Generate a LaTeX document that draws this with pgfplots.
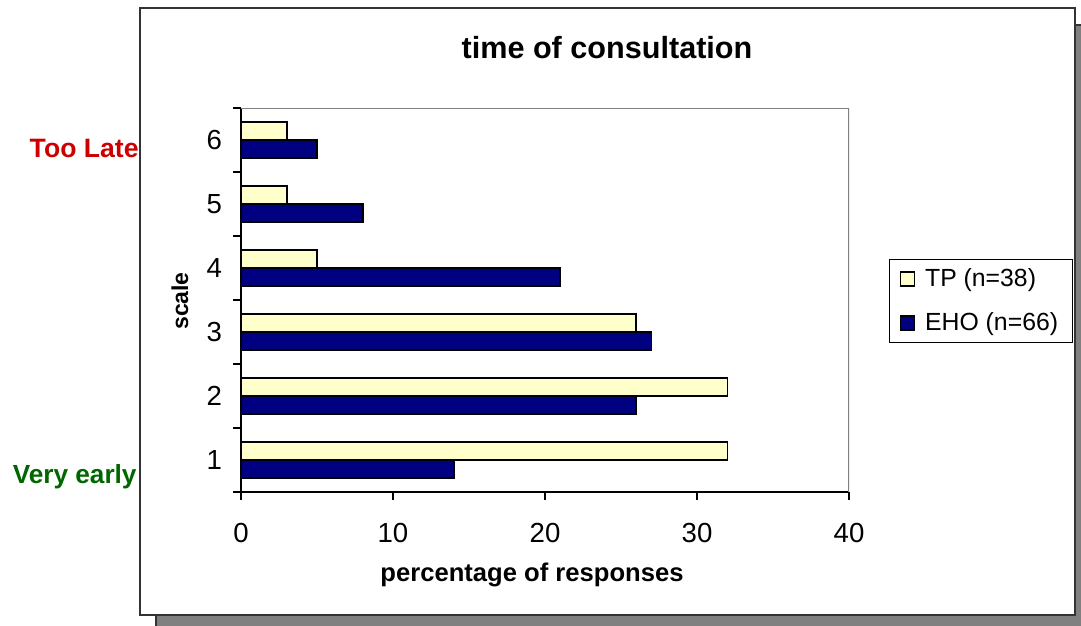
\documentclass[border=0pt]{standalone}
\usepackage{pgfplots}
\pgfplotsset{compat=1.18}
\usepackage{fontspec}
\setmainfont{Liberation Sans}
\definecolor{tpcol}{HTML}{FFFFCC}
\definecolor{ehocol}{HTML}{000080}
\definecolor{latecol}{HTML}{CC0000}
\definecolor{earlycol}{HTML}{006600}
\definecolor{shadowcol}{HTML}{808080}
\definecolor{framecol}{HTML}{333333}
\begin{document}
\begin{tikzpicture}
\begin{scope}[x=0.5pt,y=-0.5pt]
\useasboundingbox (0,0) rectangle (1081,626);
\draw[fill=shadowcol, draw=framecol, line width=1pt] (156,25) rectangle (1095,640);
\draw[fill=white, draw=framecol, line width=1pt] (140,8) rectangle (1075,615);
\node[font=\bfseries\fontsize{15.3}{18}\selectfont, inner sep=0pt] at (607,48) {time of consultation};
\node[font=\bfseries\fontsize{12.8}{15}\selectfont, inner sep=0pt] at (532,575) {percentage of responses};
\node[font=\bfseries\fontsize{11.5}{14}\selectfont, inner sep=0pt, rotate=90] at (180,301) {scale};
\node[font=\bfseries\fontsize{13.3}{16}\selectfont, inner sep=0pt, anchor=east, text=latecol] at (139,148) {Too Late};
\node[font=\bfseries\fontsize{13.1}{16}\selectfont, inner sep=0pt, anchor=east, text=earlycol] at (137,477) {Very early};
\end{scope}
\begin{axis}[
  at={(120.5pt,-246pt)}, anchor=south west,
  scale only axis, width=304pt, height=192pt,
  xbar, bar width=9pt,
  xmin=0, xmax=40, ymin=0.5, ymax=6.5,
  xtick={0,10,20,30,40},
  ytick={0.5,1.5,2.5,3.5,4.5,5.5,6.5},
  yticklabel=\empty,
  extra y ticks={1,2,3,4,5,6},
  extra y tick labels={1,2,3,4,5,6},
  extra y tick style={major tick length=0pt},
  axis x line*=bottom, axis y line*=left,
  axis line style={-, line width=0.8pt, black},
  tick align=outside, major tick length=4pt,
  tick style={black, line width=0.6pt},
  ticklabel style={font=\fontsize{13.8}{16}\selectfont},
  /pgf/number format/assume math mode=true,
  xticklabel style={yshift=-8pt},
  yticklabel style={xshift=-6pt},
  legend style={at={(1.0658,0.6068)}, anchor=north west, draw=black, line width=0.5pt,
    font=\fontsize{12.4}{15}\selectfont, row sep=7.5pt, inner xsep=5pt, inner ysep=2.5pt},
  legend cell align=left,
  legend image code/.code={\draw[#1, line width=0.6pt] (0pt,-3.5pt) rectangle (7pt,3.5pt); \path[draw=none, fill=none] (0pt,0pt) rectangle (10.5pt,0pt);},
]
\addplot[bar shift=4.5pt, fill=tpcol, draw=black, line width=0.9pt] coordinates {(32,1) (32,2) (26,3) (5,4) (3,5) (3,6)};
\addplot[bar shift=-4.5pt, fill=ehocol, draw=black, line width=0.9pt] coordinates {(14,1) (26,2) (27,3) (21,4) (8,5) (5,6)};
\legend{TP (n=38), EHO (n=66)}
\draw[shadowcol, line width=0.8pt] (rel axis cs:0,1) -- (rel axis cs:1,1) -- (rel axis cs:1,0);
\end{axis}
\end{tikzpicture}
\end{document}
